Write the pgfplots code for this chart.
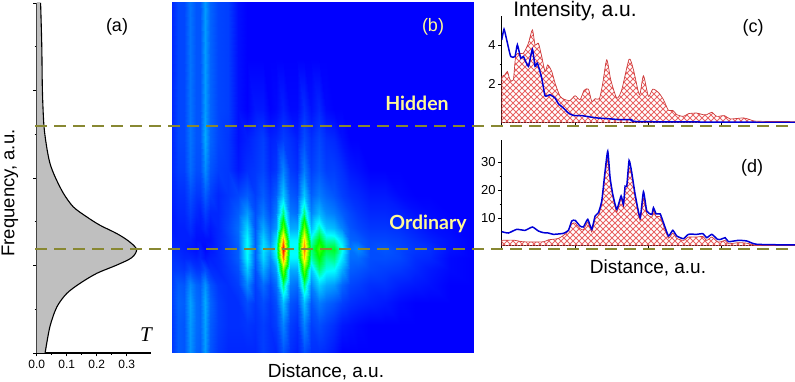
\documentclass[border=0pt]{standalone}
\usepackage{fontspec}
\setmainfont{Liberation Sans}
\newfontfamily\tfont[Ligatures=TeX]{Liberation Serif}
\newfontfamily\mapfont{Lato}
\usepackage{pgfplots}
\pgfplotsset{compat=1.18}
\usetikzlibrary{patterns}

\definecolor{dashcol}{RGB}{136,136,50}
\definecolor{redline}{RGB}{205,60,60}
\definecolor{hatch}{RGB}{232,100,100}
\definecolor{blueline}{RGB}{0,0,215}
\definecolor{mapyellow}{RGB}{255,250,150}

\pgfdeclarepatternformonly{xh}{\pgfqpoint{-1pt}{-1pt}}{\pgfqpoint{7pt}{7pt}}{\pgfqpoint{6pt}{6pt}}{%
  \pgfsetlinewidth{0.9pt}%
  \pgfpathmoveto{\pgfqpoint{0pt}{0pt}}\pgfpathlineto{\pgfqpoint{6.1pt}{6.1pt}}%
  \pgfpathmoveto{\pgfqpoint{0pt}{6pt}}\pgfpathlineto{\pgfqpoint{6.1pt}{-0.1pt}}%
  \pgfusepath{stroke}}

\pgfplotsset{
  panel/.style={
    scale only axis,
    anchor=south west,
    axis x line*=bottom,
    axis y line*=left,
    axis line style={line width=1.3pt,-},
    tick align=outside,
    major tick length=3.5pt,
    minor tick length=2pt,
    tick style={black,line width=0.9pt},
    /pgf/number format/assume math mode=true,
    tick label style={font=\fontsize{13}{13}\selectfont},
  },
  prof/.style={
    panel,
    width=293.5pt,
    xmin=65,xmax=945,
    xtick={65,285,505,725,945},
    xticklabels={},
    x axis line style={line width=1pt},
    ytick pos=left,
    xtick pos=bottom,
    yticklabel style={xshift=1pt},
  },
}

% heat map grid for panel (b): distance columns, one \maprow per frequency
\def\xs{{172,178,184,190,196,200,205,210,218,228,238,247,255,263,270,276,283,290,297,304,311,319,326,334,342,350,358,370,385,400,415,430,450,473}}
\gdef\pts{}
\newcommand{\maprow}[2]{%
  \foreach \z [count=\i from 0] in {#2} {%
    \pgfmathtruncatemacro\xv{\xs[\i]}%
    \xdef\pts{\pts (\xv,#1,\z)}%
  }%
}

\begin{document}
\begin{tikzpicture}[x=1pt,y=1pt]
\useasboundingbox (0,0) rectangle (795,382);

\maprow{8}{5,9,9,15,11,11,20,13,9,8,2,0,0,0,0,0,0,0,0,0,0,0,0,0,0,0,0,0,0,0,0,0,0,0}
\maprow{6.7}{5,9,9,15,11,11,20,13,9,8,2,0,0,0,0,0,0,0,0,0,0,0,0,0,0,0,0,0,0,0,0,0,0,0}
\maprow{5.55}{5,9,9,15,11,11,20,13,9,8,2,0,3,3,0,1,4,1,1,6,2,5,1,0,0,0,0,0,0,0,0,0,0,0}
\maprow{4.87}{5,9,9,15,11,11,22,13,9,7,2,4,6,8,4,5,8,6,4,10,6,9,6,5,2,0,0,0,0,0,0,0,0,0}
\maprow{4.18}{5,8,8,14,10,10,18,11,8,7,3,6,7,9,5,7,17,8,6,16,8,11,8,8,6,3,2,0,0,0,0,0,0,0}
\maprow{3.61}{4,6,6,10,7,7,12,8,5,7,9,12,8,12,8,12,26,12,10,26,12,16,13,11,8,6,5,3,3,1,0,0,0,0}
\maprow{3.2}{3,5,5,8,5,4,8,5,5,8,12,20,10,16,10,16,42,16,14,42,17,24,18,16,12,9,7,5,5,4,2,1,0,0}
\maprow{2.86}{3,4,4,6,3,3,5,3,5,9,14,28,11,22,14,20,60,22,22,62,24,38,26,24,17,11,9,7,7,6,4,2,1,0}
\maprow{2.58}{4,4,4,4,2,2,2,2,5,8,13,33,12,28,18,30,85,32,32,80,36,50,38,38,28,13,12,9,9,8,6,4,2,0}
\maprow{2.38}{5,5,4,3,2,4,1,3,5,8,12,34,12,30,22,34,100,34,34,88,42,56,46,48,34,15,18,10,11,9,7,6,2,0}
\maprow{2.17}{6,6,5,5,4,5,3,4,5,8,12,33,12,28,18,30,88,32,32,80,38,50,40,42,30,14,14,10,10,9,6,5,1,0}
\maprow{1.9}{7,8,7,10,7,7,10,6,5,7,10,26,10,22,14,20,62,22,22,60,26,42,34,33,22,12,11,9,8,7,5,3,1,0}
\maprow{1.55}{8,12,11,18,13,12,19,11,7,6,8,18,8,14,9,14,42,16,14,42,17,27,22,20,13,9,8,6,6,4,3,2,0,0}
\maprow{1.14}{8,13,12,21,14,13,22,13,8,6,6,10,7,10,7,10,25,11,9,25,11,16,13,11,8,6,5,4,3,1,0,0,0,0}
\maprow{.64}{7,12,11,20,14,13,21,12,8,6,6,7,6,8,6,8,17,8,6,17,8,10,8,6,3,2,1,0,0,0,0,0,0,0}
\maprow{0}{7,12,11,19,13,12,20,11,7,5,5,5,5,8,6,5,11,6,4,10,6,6,5,3,0,0,0,0,0,0,0,0,0,0}

% (a)
\begin{axis}[panel,at={(36.7pt,29pt)},width=114pt,height=350pt,
  xmin=0,xmax=0.38,ymin=0,ymax=8,
  xtick={0,0.1,0.2,0.3},minor x tick num=1,
  ytick={0,2,4,6,8},minor y tick num=1,yticklabels={},
  xticklabel style={/pgf/number format/fixed,/pgf/number format/fixed zerofill,/pgf/number format/precision=1,font=\fontsize{12}{12}\selectfont},
]
\addplot[draw=none,fill=black!25,smooth] coordinates {
(0,0)(.028,0)(.044,.6)(.067,1.05)(.1,1.36)(.144,1.59)(.2,1.82)(.267,2.01)(.317,2.18)(.333,2.37)
(.306,2.56)(.267,2.73)(.211,2.92)(.167,3.11)(.122,3.34)(.089,3.65)(.061,4.03)(.044,4.34)(.033,4.72)
(.024,5.21)(.019,6)(.017,7)(.013,8)(0,8)} -- cycle;
\addplot[black,line width=1.1pt,smooth] coordinates {
(.028,0)(.044,.6)(.067,1.05)(.1,1.36)(.144,1.59)(.2,1.82)(.267,2.01)(.317,2.18)(.333,2.37)
(.306,2.56)(.267,2.73)(.211,2.92)(.167,3.11)(.122,3.34)(.089,3.65)(.061,4.03)(.044,4.34)(.033,4.72)
(.024,5.21)(.019,6)(.017,7)(.013,8)};
\end{axis}

% (b)
\begin{axis}[scale only axis,anchor=south west,at={(172pt,29pt)},width=301pt,height=351pt,
  hide axis,xmin=172,xmax=473,ymin=0,ymax=8,view={0}{90},
  colormap={hm}{rgb255(0pt)=(0,0,255) rgb255(33pt)=(0,255,255) rgb255(50pt)=(0,255,0) rgb255(75pt)=(255,255,0) rgb255(100pt)=(255,0,0)},
  point meta min=0,point meta max=100]
\edef\plotmap{\noexpand\addplot3[surf,shader=interp,mesh/cols=34,mesh/ordering=x varies,point meta=z] coordinates {\pts};}
\plotmap
\end{axis}

% (c)
\begin{axis}[prof,at={(501.7pt,259pt)},height=107pt,ymin=0,ymax=5.5,
  ytick={2,4},minor y tick num=1]
\addplot[draw=redline,line width=0.7pt,pattern=xh,pattern color=hatch,smooth,tension=0.4] coordinates {
(65,2.39)(75,2.48)(82,2.65)(90,2.22)(100,2.22)(108,3.5)(130,3.59)(145,4.1)(157,4.79)(165,4.02)(175,4.1)
(185,3.42)(195,2.65)(203,2.99)(215,2.65)(225,2.05)(240,1.37)(255,1.2)(270,1.16)(285,1.4)(300,1.2)(312,1.68)
(325,1.74)(335,1.11)(345,1.25)(358,1.25)(368,2.05)(380,3.25)(392,2.22)(410,1.28)(425,1.71)(447,3.28)(460,2.74)
(478,1.45)(490,2.43)(505,1.37)(518,1.74)(535,1.57)(550,1.2)(565,.65)(578,.65)(590,.43)(610,.34)(625,.48)(650,.51)
(668,.43)(680,.43)(695,.55)(710,.34)(733,.38)(750,.21)(790,.26)(810,.17)(830,.09)(945,.07)} \closedcycle;
\addplot[blueline,line width=1.5pt,smooth,tension=0.3] coordinates {
(65,4.27)(72,4.82)(80,4.27)(92,3.42)(105,3.42)(112,4.02)(122,3.33)(130,3.42)(145,2.91)(157,3.79)(165,2.91)(172,3.08)
(185,2.31)(195,1.4)(210,1.45)(225,1.28)(235,.99)(250,.77)(265,.51)(280,.39)(305,.38)(330,.31)(350,.26)(385,.22)
(420,.17)(455,.17)(480,.07)(945,.03)};
\end{axis}

% (d)
\begin{axis}[prof,at={(501.7pt,136pt)},height=106pt,ymin=0,ymax=37.9,
  ytick={10,20,30},minor y tick num=1]
\addplot[draw=redline,line width=0.7pt,pattern=xh,pattern color=hatch,smooth,tension=0.3] coordinates {
(65,2)(100,2.1)(130,1.5)(190,1.5)(205,2.2)(235,2.7)(260,4.7)(275,7.9)(285,8.2)(300,6.2)(310,5.8)(323,8.5)(335,5)
(345,9.7)(355,10.9)(365,15)(375,25.5)(383,31)(390,23.5)(398,17.5)(410,12.1)(423,16.9)(430,13.9)(435,20.4)(440,20.4)
(447,28)(455,25)(465,17.5)(480,9.1)(490,17)(500,11.5)(515,10.3)(520,12.7)(528,10.5)(540,10.5)(550,7.3)(565,2.8)
(578,4.6)(590,2.7)(610,2)(625,3.2)(650,3.2)(668,3.4)(680,2)(695,3.2)(712,1.5)(722,1.5)(735,2)(745,.8)(775,1.2)
(800,1)(830,.3)(945,.2)} \closedcycle;
\addplot[blueline,line width=1.5pt,smooth,tension=0.3] coordinates {
(65,5.12)(85,4.64)(110,5.95)(135,5.6)(157,6.79)(175,5.36)(190,4.76)(205,4.64)(220,4.17)(250,4.52)(265,5.6)(275,8.93)
(285,9.17)(300,7.14)(310,6.79)(323,9.52)(335,5.95)(345,10.7)(355,11.9)(365,16.1)(375,26.8)(383,33.9)(390,24.4)
(398,18.5)(410,13.1)(423,17.9)(430,14.9)(435,21.4)(440,21.4)(447,30.6)(455,26.2)(465,18.5)(480,10.1)(490,19.4)
(500,12.5)(515,11.3)(520,13.7)(528,11.5)(540,11.5)(550,8.33)(565,3.57)(578,5.6)(590,3.57)(610,2.62)(625,4.17)
(650,4.17)(668,4.4)(680,2.98)(695,4.17)(712,2.38)(722,2.38)(735,2.98)(745,1.55)(775,2.02)(800,1.79)(830,.6)(945,.36)};
\end{axis}

% reference lines across the panels
\draw[dashcol,line width=1.6pt,dash pattern=on 12pt off 7pt] (35,256) -- (793,256);
\draw[dashcol,line width=1.6pt,dash pattern=on 12pt off 7pt] (35,133) -- (793,133);

% labels
\node[font=\fontsize{18.5}{18.5}\selectfont,rotate=90] at (10,189) {Frequency, a.u.};
\node[font=\fontsize{19}{19}\selectfont] at (326,10) {Distance, a.u.};
\node[font=\fontsize{19}{19}\selectfont] at (648,114) {Distance, a.u.};
\node[font=\fontsize{21}{21}\selectfont] at (575,371) {Intensity, a.u.};
\node[font=\fontsize{18}{18}\selectfont] at (117,355) {(a)};
\node[font=\fontsize{18}{18}\selectfont,text=mapyellow] at (433,355) {(b)};
\node[font=\fontsize{18}{18}\selectfont] at (753,354) {(c)};
\node[font=\fontsize{18}{18}\selectfont] at (752,214) {(d)};
\node[font=\tfont\fontsize{21}{21}\selectfont\itshape] at (146,47) {T};
\node[font=\mapfont\bfseries\fontsize{19.5}{19.5}\selectfont,text=mapyellow] at (417,279) {Hidden};
\node[font=\mapfont\bfseries\fontsize{19.5}{19.5}\selectfont,text=mapyellow] at (428,158) {Ordinary};
\end{tikzpicture}
\end{document}
